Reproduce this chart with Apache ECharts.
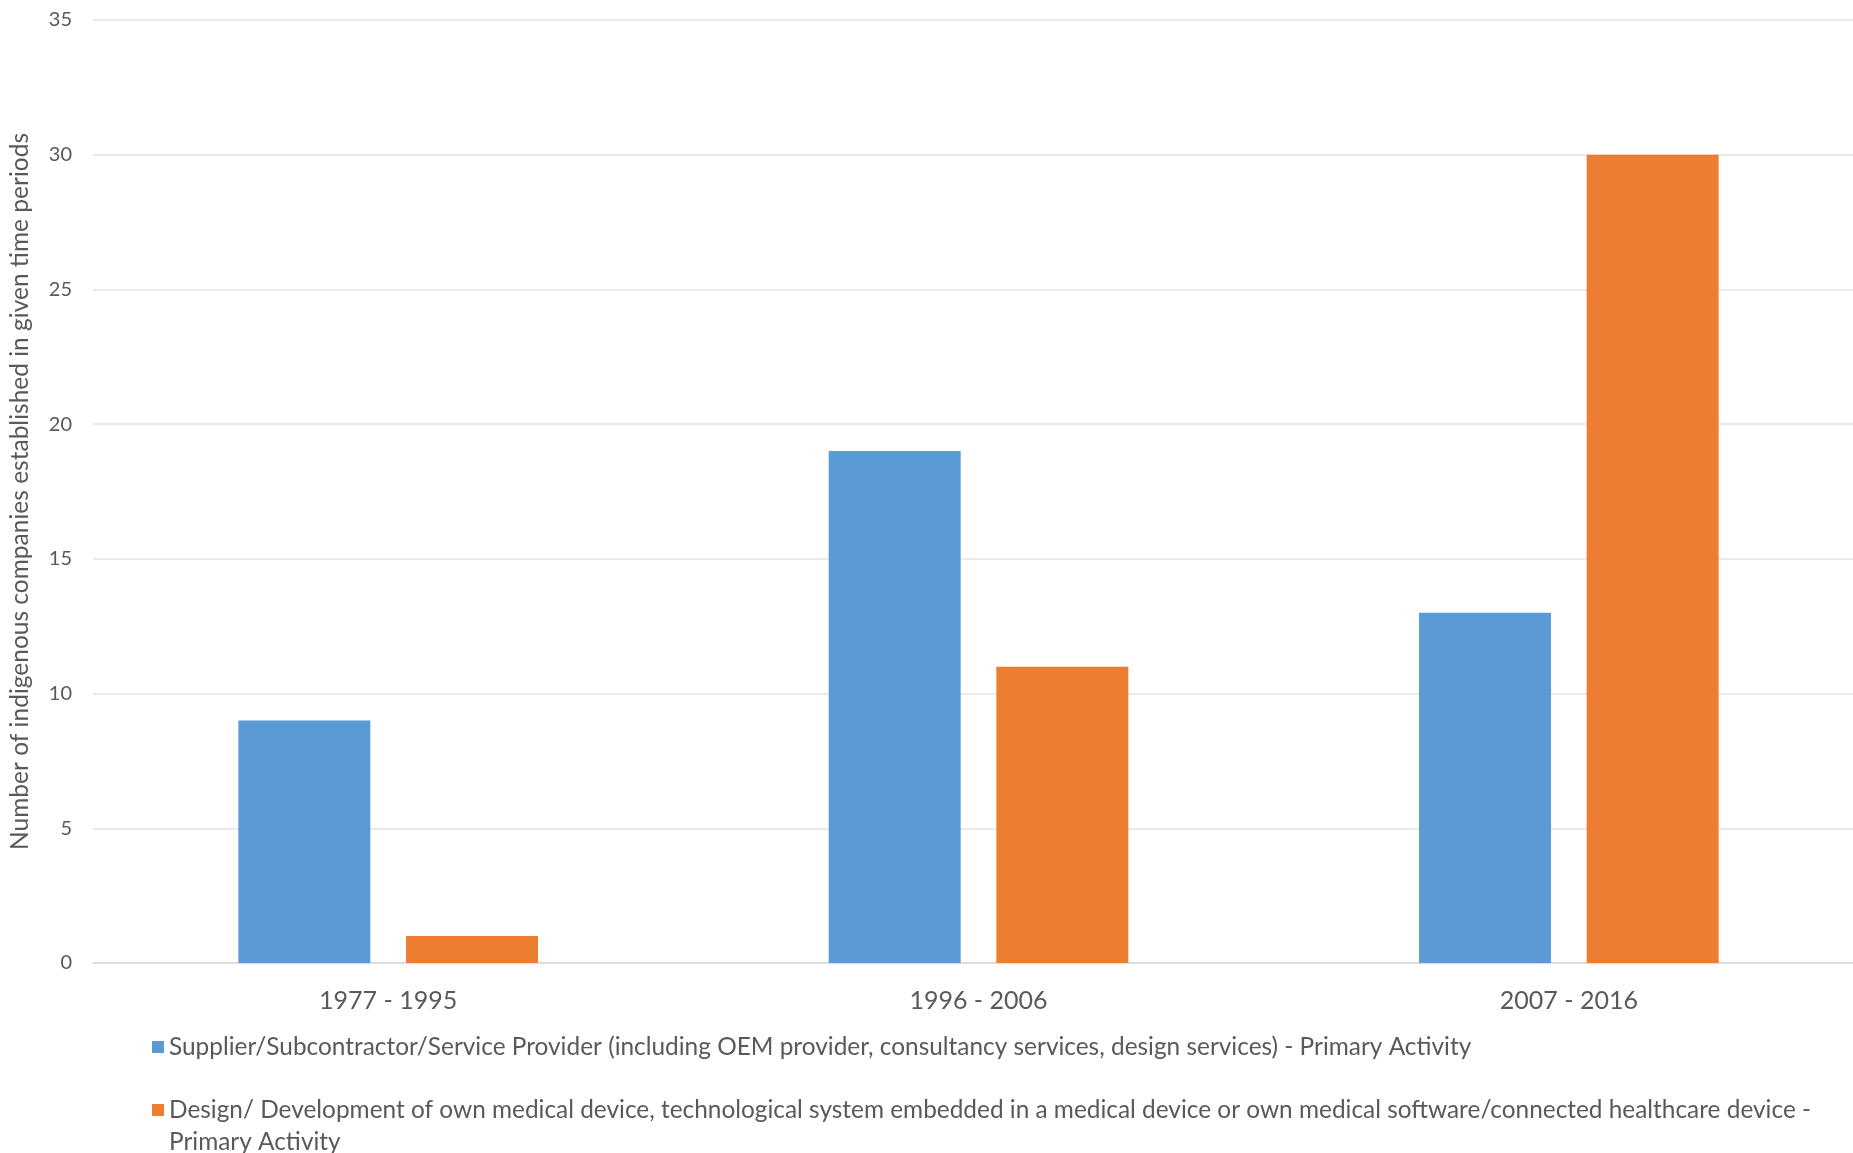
<!DOCTYPE html>
<html>
<head>
<meta charset="utf-8">
<style>
  html, body { margin: 0; padding: 0; background: #ffffff; overflow: hidden; }
  #chart { width: 1864px; height: 1153px; }
</style>
<script src="https://cdn.jsdelivr.net/npm/echarts@6/dist/echarts.min.js"></script>
</head>
<body>
<div id="chart"></div>
<script>
const categories = ['1977 - 1995', '1996 - 2006', '2007 - 2016'];
const seriesNames = [
  'Supplier/Subcontractor/Service Provider (including OEM provider, consultancy services, design services) - Primary Activity',
  'Design/ Development of own medical device, technological system embedded in a medical device or own medical software/connected healthcare device - Primary Activity'
];
const supplierValues = [9, 19, 13];
const designValues = [1, 11, 30];
const yTicks = { min: 0, max: 35, interval: 5 };
const yAxisName = 'Number of indigenous companies established in given time periods';

const FONT = 'Lato';
const TEXT = '#595959';

const chart = echarts.init(document.getElementById('chart'), null, { renderer: 'canvas' });
chart.setOption({
  backgroundColor: '#ffffff',
  animation: false,
  grid: { left: 93, top: 20, right: 0, height: 943, containLabel: false },
  xAxis: {
    type: 'category',
    data: categories,
    axisLine: { show: true, lineStyle: { color: '#d9d9d9', width: 1.5 } },
    axisTick: { show: false },
    axisLabel: { color: TEXT, fontFamily: FONT, fontSize: 25, margin: 25 }
  },
  yAxis: {
    type: 'value',
    min: yTicks.min, max: yTicks.max, interval: yTicks.interval,
    name: yAxisName,
    nameLocation: 'middle',
    nameGap: 60,
    nameTextStyle: { color: TEXT, fontFamily: FONT, fontSize: 24.5 },
    axisLine: { show: false },
    axisTick: { show: false },
    axisLabel: { color: TEXT, fontFamily: FONT, fontSize: 20, margin: 21 },
    splitLine: { lineStyle: { color: '#e3e3e3', width: 1.5 } }
  },
  legend: [
    {
      data: [seriesNames[0]],
      left: 152, top: 1031, padding: 0,
      itemWidth: 12, itemHeight: 12, icon: 'rect',
      textStyle: { color: TEXT, fontFamily: FONT, fontSize: 24.4, lineHeight: 32 }
    },
    {
      data: [seriesNames[1]],
      left: 152, top: 1062, padding: 0,
      itemWidth: 12, itemHeight: 12, icon: 'rect',
      formatter: function (name) {
        return '\n' + name.replace(' device - Primary Activity', ' device -\nPrimary Activity');
      },
      textStyle: { color: TEXT, fontFamily: FONT, fontSize: 24.4, lineHeight: 32 }
    }
  ],
  series: [
    {
      name: seriesNames[0], type: 'bar', data: supplierValues,
      barWidth: 132, barGap: '27%',
      itemStyle: { color: '#5b9bd5' }
    },
    {
      name: seriesNames[1], type: 'bar', data: designValues,
      barWidth: 132, barGap: '27%',
      itemStyle: { color: '#ed7d31' }
    }
  ]
});
</script>
</body>
</html>
